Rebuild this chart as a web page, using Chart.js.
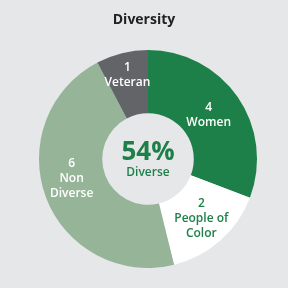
<!DOCTYPE html>
<html>
<head>
<meta charset="utf-8">
<script src="https://cdn.jsdelivr.net/npm/chart.js@4"></script>
<style>
  html, body { margin: 0; padding: 0; background: #e6e7e9; }
  #wrap { width: 288px; height: 288px; }
</style>
</head>
<body>
<div id="wrap"><canvas id="chart-diversity" width="288" height="288"></canvas></div>
<script>
const categories = ["Women", "People of Color", "Non Diverse", "Veteran"];
const labelLines = [["4", "Women"], ["2", "People of", "Color"], ["6", "Non", "Diverse"], ["1", "Veteran"]];
const counts = [4, 2, 6, 1];
const sliceColors = ["#1e8049", "#ffffff", "#95b498", "#636468"];
const labelColors = ["#ffffff", "#1e8049", "#ffffff", "#ffffff"];
const centerValue = "54%";
const centerLabel = "Diverse";
const titleText = "Diversity";

const FONT = "'Open Sans', sans-serif";
// small nudges so labels sit where the original placed them
const labelNudge = [[-3, 0], [2, 2], [-4, -8], [-2, -9]];

const labelsPlugin = {
  id: "sliceLabels",
  afterDatasetsDraw(chart) {
    const ctx = chart.ctx;
    const meta = chart.getDatasetMeta(0);
    ctx.save();
    ctx.textAlign = "center";
    ctx.textBaseline = "middle";
    meta.data.forEach((arc, i) => {
      const p = arc.tooltipPosition();
      const lines = labelLines[i];
      const lh = 15;
      const x = p.x + labelNudge[i][0];
      const y = p.y + labelNudge[i][1];
      ctx.fillStyle = labelColors[i];
      ctx.font = "600 12px " + FONT;
      lines.forEach((line, j) => {
        ctx.fillText(line, x, y + (j - (lines.length - 1) / 2) * lh);
      });
    });

    // centre text
    const a = meta.data[0];
    ctx.fillStyle = "#1e8049";
    ctx.font = "bold 26px " + FONT;
    ctx.fillText(centerValue, a.x, a.y - 6);
    ctx.font = "600 12px " + FONT;
    ctx.fillText(centerLabel, a.x, a.y + 14);

    // title
    ctx.fillStyle = "#222222";
    ctx.font = "bold 14px " + FONT;
    ctx.fillText(titleText, 144, 20);
    ctx.restore();
  },
};

new Chart(document.getElementById("chart-diversity"), {
  type: "doughnut",
  data: {
    labels: categories,
    datasets: [{
      data: counts,
      backgroundColor: sliceColors,
      borderWidth: 0,
    }],
  },
  options: {
    responsive: false,
    animation: false,
    cutout: "42%",
    layout: { padding: { top: 50, bottom: 20, left: 39, right: 31 } },
    plugins: {
      legend: { display: false },
      tooltip: { enabled: false },
      title: { display: false },
    },
  },
  plugins: [labelsPlugin],
});
</script>
</body>
</html>
